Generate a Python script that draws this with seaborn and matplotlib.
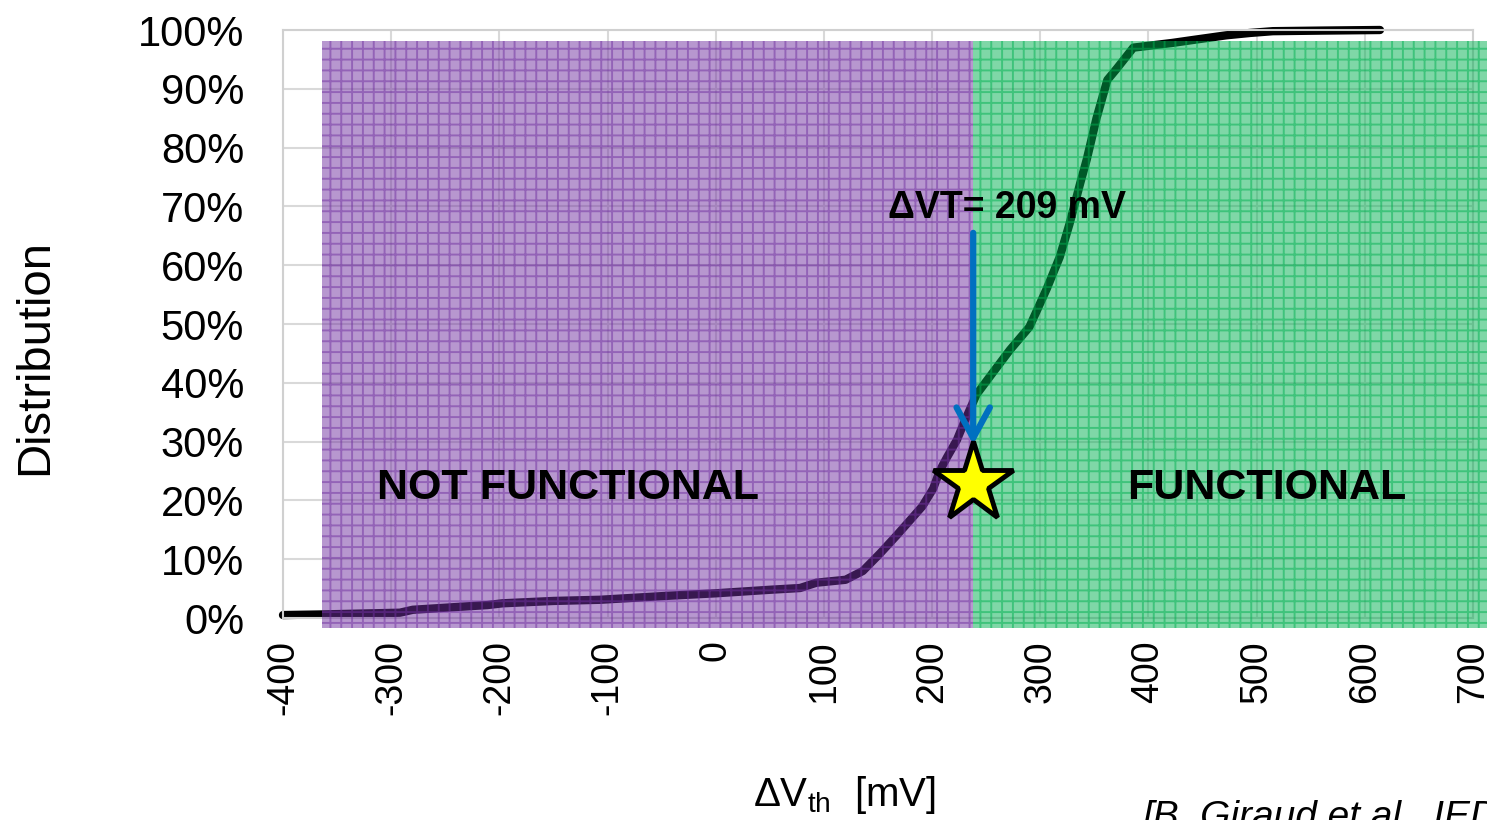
import numpy as np
import pandas as pd
import seaborn as sns
import matplotlib.pyplot as plt
from matplotlib.patches import Rectangle
from matplotlib.ticker import PercentFormatter

# data
dvth = [-400, -365, -292, -280, -211, -197, -150, -107, -42, 0, 50, 78, 93, 120,
        136, 152, 167, 180, 191, 201, 207, 214, 223, 229, 241, 256, 272, 290,
        306, 318, 327, 337, 343, 352, 362, 371, 383, 386, 422, 441, 472, 494,
        515, 560, 614]
dist = [0.5, 0.6, 0.9, 1.4, 2.2, 2.5, 2.9, 3.1, 3.8, 4.2, 4.8, 5.1, 6.0, 6.5,
        8.0, 11, 14, 16.7, 19, 22, 25, 27.4, 30.3, 33, 38, 41.7, 45.6, 49.5,
        56, 61.4, 67, 74, 78, 85, 91.5, 93.5, 96.3, 97, 97.8, 98.3, 99.1, 99.5,
        99.8, 99.9, 100]
x_ticks = [-400, -300, -200, -100, 0, 100, 200, 300, 400, 500, 600, 700]
y_ticks = [0, 10, 20, 30, 40, 50, 60, 70, 80, 90, 100]

threshold = 238          # position of the star / region boundary
star_y = 23
arrow_top = 65.5
arrow_tip = 29.5
region_left = -364
region_right = 713
region_bottom = -1.7
region_top = 98.1

df = pd.DataFrame({"dvth": dvth, "dist": dist})

# dpi 130 gives the hatch grid about the same cell size as the reference;
# k converts the sizes (tuned at 100 dpi) back to points
DPI = 130
k = 100 / DPI

sns.set_style("white")
plt.rcParams['font.family'] = ['Liberation Sans', 'DejaVu Sans']
plt.rcParams['mathtext.fontset'] = 'custom'
plt.rcParams['mathtext.rm'] = 'Liberation Sans'
plt.rcParams['axes.unicode_minus'] = False
plt.rcParams['hatch.linewidth'] = 1.4 * k
for key in ['text.color', 'axes.labelcolor', 'xtick.color', 'ytick.color']:
    plt.rcParams[key] = 'black'

fig = plt.figure(figsize=(1487 / DPI, 820 / DPI), dpi=DPI)
ax = fig.add_axes([283 / 1487, 1 - 618 / 820, (1473 - 283) / 1487, (618 - 30) / 820])

sns.lineplot(data=df, x="dvth", y="dist", color="black", linewidth=6 * k,
             sort=False, ax=ax, zorder=2, clip_on=False)

# shaded regions
ax.add_patch(Rectangle((region_left, region_bottom), threshold - region_left,
                       region_top - region_bottom, facecolor='#7030A0',
                       edgecolor='#7030A0', alpha=0.5, hatch='++', lw=0,
                       clip_on=False, zorder=3))
ax.add_patch(Rectangle((threshold, region_bottom), region_right - threshold,
                       region_top - region_bottom, facecolor='#00B050',
                       edgecolor='#00B050', alpha=0.5, hatch='++', lw=0,
                       clip_on=False, zorder=3))

ax.annotate('', xy=(threshold, arrow_tip), xytext=(threshold, arrow_top),
            arrowprops=dict(arrowstyle='->,head_length=1.1,head_width=0.6',
                            color='#0070C0', lw=4.5 * k, mutation_scale=20 * k,
                            shrinkA=0, shrinkB=0), zorder=5)
ax.plot([threshold], [star_y], marker='*', ms=60 * k, mfc='#FFFF00', mec='black',
        mew=3.5 * k, zorder=6, clip_on=False)

ax.text(159, 68, "ΔVT= 209 mV", fontsize=27 * k, fontweight='bold',
        va='baseline', zorder=6)
ax.text(-137, 22.1, "NOT FUNCTIONAL", fontsize=31 * k, fontweight='bold',
        ha='center', va='center', zorder=6)
ax.text(509, 22.1, "FUNCTIONAL", fontsize=31 * k, fontweight='bold',
        ha='center', va='center', zorder=6)

ax.set_xlim(-400, 700)
ax.set_ylim(0, 100)
ax.set_xticks(x_ticks)
ax.set_yticks(y_ticks)
ax.yaxis.set_major_formatter(PercentFormatter(100, decimals=0))
ax.tick_params(axis='x', labelsize=27 * k, rotation=90, length=0, pad=16 * k)
ax.tick_params(axis='y', labelsize=30 * k, length=0, pad=28 * k)
ax.grid(True, color='#d9d9d9', lw=1.5 * k)
for s in ax.spines.values():
    s.set_color('#d0d0d0')
    s.set_linewidth(1.5 * k)

ax.set_xlabel(r'$\Delta$V$_{\mathrm{th}}$  [mV]', fontsize=29 * k)
ax.xaxis.set_label_coords((844 - 283) / 1190, -0.265)
ax.set_ylabel('Distribution', fontsize=34 * k)
ax.yaxis.set_label_coords(-0.19, 0.444)

fig.text(1143 / 1487, 1 - 800 / 820, "[B. Giraud et al., IEDM]",
         fontsize=28 * k, style='italic', va='top')

fig.savefig("out.png", dpi=DPI)
